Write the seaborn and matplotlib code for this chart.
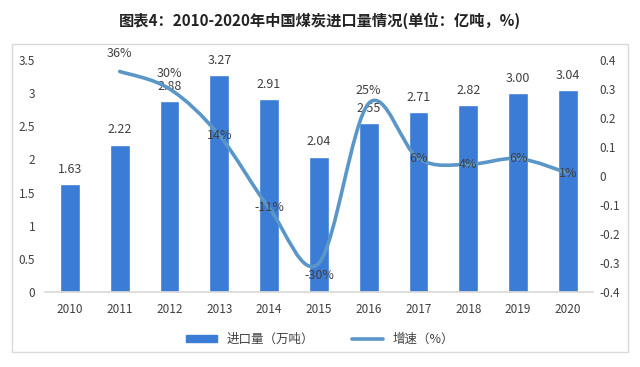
import matplotlib
matplotlib.use('Agg')
import matplotlib.pyplot as plt
import seaborn as sns
import pandas as pd
import numpy as np
from matplotlib.path import Path
from matplotlib.patches import PathPatch, Patch, Rectangle
from matplotlib.lines import Line2D

# data
years = ['2010', '2011', '2012', '2013', '2014', '2015', '2016', '2017', '2018', '2019', '2020']
imports = [1.63, 2.22, 2.88, 3.27, 2.91, 2.04, 2.55, 2.71, 2.82, 3.00, 3.04]
growth_years = ['2011', '2012', '2013', '2014', '2015', '2016', '2017', '2018', '2019', '2020']
growth = [0.36, 0.30, 0.14, -0.11, -0.30, 0.25, 0.06, 0.04, 0.06, 0.01]
growth_labels = ['36%', '30%', '14%', '-11%', '-30%', '25%', '6%', '4%', '6%', '1%']
# label offsets in points relative to each growth point
growth_offsets = [(0, 13), (0, 11), (0, 0), (0, 0), (0, -9), (0, 9), (0, 0), (0, 0), (0, 0), (0, 0)]

bar_color = '#3a7cd6'
line_color = '#5b96c8'
text_color = '#404040'

sns.set_theme(style='white')
plt.rcParams['font.family'] = ['Noto Sans CJK SC', 'DejaVu Sans']
plt.rcParams['axes.unicode_minus'] = False

df = pd.DataFrame({'year': years, 'imports': imports})

fig = plt.figure(figsize=(6.4, 3.67), dpi=100)
fig.patch.set_facecolor('white')

# light frame round the chart area
fig.add_artist(Rectangle((0.018, 0.04), 0.963, 0.84, transform=fig.transFigure,
                         fill=False, edgecolor='#d9d9d9', linewidth=1))

ax = fig.add_axes([0.0703, 0.204, 0.856, 0.633])
sns.barplot(data=df, x='year', y='imports', color=bar_color, width=0.4,
            saturation=1, ax=ax)
ax.set_ylim(0, 3.5)
ax.set_yticks(np.arange(0, 3.51, 0.5))
ax.set_yticklabels(['0', '0.5', '1', '1.5', '2', '2.5', '3', '3.5'])
ax.set_xlabel('')
ax.set_ylabel('')
for s in ['top', 'left', 'right']:
    ax.spines[s].set_visible(False)
ax.spines['bottom'].set_color('#d9d9d9')
ax.tick_params(axis='both', length=0, labelsize=8.5, colors=text_color, pad=8)
ax.tick_params(axis='y', pad=7)

for i, v in enumerate(imports):
    ax.annotate(f'{v:.2f}', (i, v), xytext=(0, 6), textcoords='offset points',
                ha='center', va='bottom', fontsize=9, color=text_color)

# smoothed growth line on the secondary axis
ax2 = ax.twinx()
ax2.set_ylim(-0.4, 0.4)
ax2.set_yticks(np.round(np.arange(-0.4, 0.41, 0.1), 1))
ax2.set_yticklabels(['-0.4', '-0.3', '-0.2', '-0.1', '0', '0.1', '0.2', '0.3', '0.4'])
for s in ['top', 'left', 'right', 'bottom']:
    ax2.spines[s].set_visible(False)
ax2.tick_params(axis='y', length=0, labelsize=8.5, colors=text_color, pad=5)

xs = np.array([years.index(y) for y in growth_years], dtype=float)
ys = np.array(growth, dtype=float)
pts = np.column_stack([xs, ys])
verts = [pts[0]]
codes = [Path.MOVETO]
for i in range(len(pts) - 1):
    p0 = pts[i - 1] if i > 0 else pts[i]
    p1 = pts[i]
    p2 = pts[i + 1]
    p3 = pts[i + 2] if i + 2 < len(pts) else pts[i + 1]
    c1 = p1 + (p2 - p0) / 6
    c2 = p2 - (p3 - p1) / 6
    verts += [c1, c2, p2]
    codes += [Path.CURVE4] * 3
ax2.add_patch(PathPatch(Path(verts, codes), fill=False, edgecolor=line_color,
                        linewidth=2.6, capstyle='round'))

for x, y, lab, off in zip(xs, ys, growth_labels, growth_offsets):
    ax2.annotate(lab, (x, y), xytext=off, textcoords='offset points',
                 ha='center', va='center', fontsize=9, color=text_color)

ax.set_xlim(-0.5, len(years) - 0.5)

fig.text(0.5, 0.945, '图表4：2010-2020年中国煤炭进口量情况(单位：亿吨，%)',
         ha='center', va='center', fontsize=11, fontweight='bold', color='#222222')

handles = [Patch(facecolor=bar_color, edgecolor=bar_color),
           Line2D([0], [0], color=line_color, linewidth=2.6)]
fig.legend(handles, ['进口量（万吨）', '增速（%）'], loc='center',
           bbox_to_anchor=(0.5, 0.075), ncol=2, frameon=False, fontsize=9,
           handlelength=2.5, handleheight=0.5, columnspacing=3,
           labelcolor=text_color)

fig.savefig('out.png', dpi=100)
